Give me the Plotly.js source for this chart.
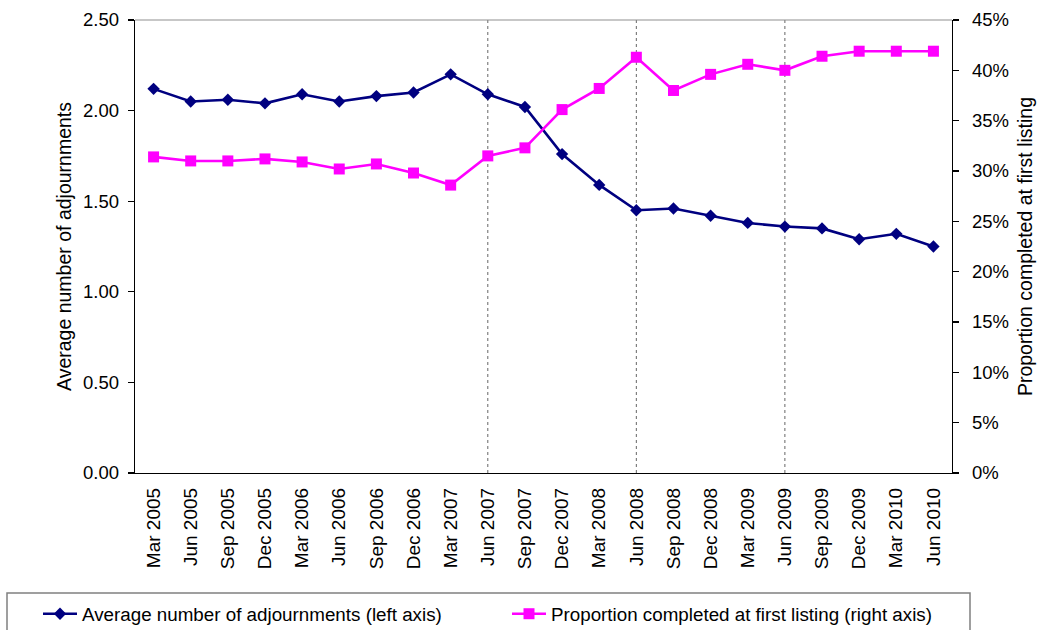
<!DOCTYPE html>
<html>
<head>
<meta charset="utf-8">
<script src="https://cdn.plot.ly/plotly-3.0.1.min.js"></script>
<style>
  html, body { margin: 0; padding: 0; background: #ffffff; }
  #chart { width: 1038px; height: 630px; }
</style>
</head>
<body>
<div id="chart"></div>
<script>
// Quarterly periods on the category axis
const quarters = [
  'Mar 2005', 'Jun 2005', 'Sep 2005', 'Dec 2005',
  'Mar 2006', 'Jun 2006', 'Sep 2006', 'Dec 2006',
  'Mar 2007', 'Jun 2007', 'Sep 2007', 'Dec 2007',
  'Mar 2008', 'Jun 2008', 'Sep 2008', 'Dec 2008',
  'Mar 2009', 'Jun 2009', 'Sep 2009', 'Dec 2009',
  'Mar 2010', 'Jun 2010'
];

// Average number of adjournments per case (left axis)
const avgAdjournments = [
  2.12, 2.05, 2.06, 2.04,
  2.09, 2.05, 2.08, 2.10,
  2.20, 2.09, 2.02, 1.76,
  1.59, 1.45, 1.46, 1.42,
  1.38, 1.36, 1.35, 1.29,
  1.32, 1.25
];

// Proportion of cases completed at first listing, in percent (right axis)
const completedFirstListing = [
  31.4, 31.0, 31.0, 31.2,
  30.9, 30.2, 30.7, 29.8,
  28.6, 31.5, 32.3, 36.1,
  38.2, 41.3, 38.0, 39.6,
  40.6, 40.0, 41.4, 41.9,
  41.9, 41.9
];

// Periods marked with a dotted reference line
const markedPeriods = ['Jun 2007', 'Jun 2008', 'Jun 2009'];

const seriesNames = [
  'Average number of adjournments (left axis)',
  'Proportion completed at first listing (right axis)'
];

const leftTicks = [0, 0.5, 1, 1.5, 2, 2.5];
const rightTicks = [0, 5, 10, 15, 20, 25, 30, 35, 40, 45];
const rightTickText = rightTicks.map(v => v + '%');

const FONT = 'Liberation Sans, Arial, sans-serif';

// page geometry
const W = 1038, H = 630;
const M = { l: 135, r: 86, t: 20, b: 157 };
const plotW = W - M.l - M.r;
const plotH = H - M.t - M.b;
const toPaperX = px => (px - M.l) / plotW;
const toPaperY = py => (H - M.b - py) / plotH;

const traces = [
  {
    type: 'scatter',
    mode: 'lines+markers',
    name: seriesNames[0],
    x: quarters,
    y: avgAdjournments,
    yaxis: 'y',
    line: { color: '#000080', width: 2.6 },
    marker: { symbol: 'diamond', size: 9.5, color: '#000080' },
    cliponaxis: false
  },
  {
    type: 'scatter',
    mode: 'lines+markers',
    name: seriesNames[1],
    x: quarters,
    y: completedFirstListing,
    yaxis: 'y2',
    line: { color: '#FF00FF', width: 2.6 },
    marker: { symbol: 'square', size: 11, color: '#FF00FF' },
    cliponaxis: false
  }
];

const shapes = markedPeriods.map(p => ({
  type: 'line',
  xref: 'x', yref: 'paper',
  x0: p, x1: p, y0: 0, y1: 1,
  line: { color: '#666666', width: 1, dash: 'dot' },
  layer: 'below'
}));

// light frame along the top of the plotting area
shapes.push({
  type: 'line',
  xref: 'paper', yref: 'paper',
  x0: 0, x1: 1, y0: 1, y1: 1,
  line: { color: '#909090', width: 1.2 },
  layer: 'below'
});

// frame around the legend strip at the foot of the page
shapes.push({
  type: 'rect',
  xref: 'paper', yref: 'paper',
  x0: toPaperX(7), x1: toPaperX(970),
  y0: toPaperY(593), y1: toPaperY(650),
  line: { color: '#808080', width: 1.5 },
  fillcolor: 'rgba(0,0,0,0)',
  layer: 'above'
});

const layout = {
  width: W,
  height: H,
  margin: { l: M.l, r: M.r, t: M.t, b: M.b, pad: 0, autoexpand: false },
  paper_bgcolor: '#ffffff',
  plot_bgcolor: '#ffffff',
  font: { family: FONT, size: 18, color: '#000000' },
  showlegend: true,
  xaxis: {
    type: 'category',
    categoryorder: 'array',
    categoryarray: quarters,
    range: [-0.5, quarters.length - 0.5],
    tickangle: -90,
    ticks: '',
    showgrid: false,
    zeroline: false,
    showline: true,
    linecolor: '#000000',
    linewidth: 1.3,
    tickfont: { family: FONT, size: 19, color: '#000000' },
    ticklabelstandoff: 6
  },
  yaxis: {
    range: [0, 2.5],
    tickvals: leftTicks,
    tickformat: '.2f',
    ticks: 'outside',
    ticklen: 6,
    tickcolor: '#000000',
    tickwidth: 1.2,
    showgrid: false,
    zeroline: false,
    showline: true,
    linecolor: '#000000',
    linewidth: 1.3,
    tickfont: { family: FONT, size: 18.5, color: '#000000' },
    ticklabelstandoff: 5,
    title: {
      text: 'Average number of adjournments',
      font: { family: FONT, size: 19.5, color: '#000000' },
      standoff: 6
    }
  },
  yaxis2: {
    overlaying: 'y',
    side: 'right',
    anchor: 'x',
    range: [0, 45],
    tickmode: 'array',
    tickvals: rightTicks,
    ticktext: rightTickText,
    ticks: 'outside',
    ticklen: 6,
    tickcolor: '#000000',
    tickwidth: 1.2,
    showgrid: false,
    zeroline: false,
    showline: true,
    linecolor: '#000000',
    linewidth: 1.3,
    tickfont: { family: FONT, size: 18.5, color: '#000000' },
    ticklabelstandoff: 9,
    title: {
      text: 'Proportion completed at first listing',
      font: { family: FONT, size: 19.5, color: '#000000' },
      standoff: 10
    }
  },
  legend: {
    orientation: 'h',
    xref: 'paper',
    yref: 'paper',
    x: toPaperX(38),
    y: toPaperY(595),
    xanchor: 'left',
    yanchor: 'top',
    bgcolor: 'rgba(0,0,0,0)',
    borderwidth: 0,
    font: { family: FONT, size: 18.8, color: '#000000' },
    entrywidth: 420,
    itemwidth: 34
  },
  shapes: shapes
};

Plotly.newPlot('chart', traces, layout, { displayModeBar: false, staticPlot: true });
</script>
</body>
</html>
